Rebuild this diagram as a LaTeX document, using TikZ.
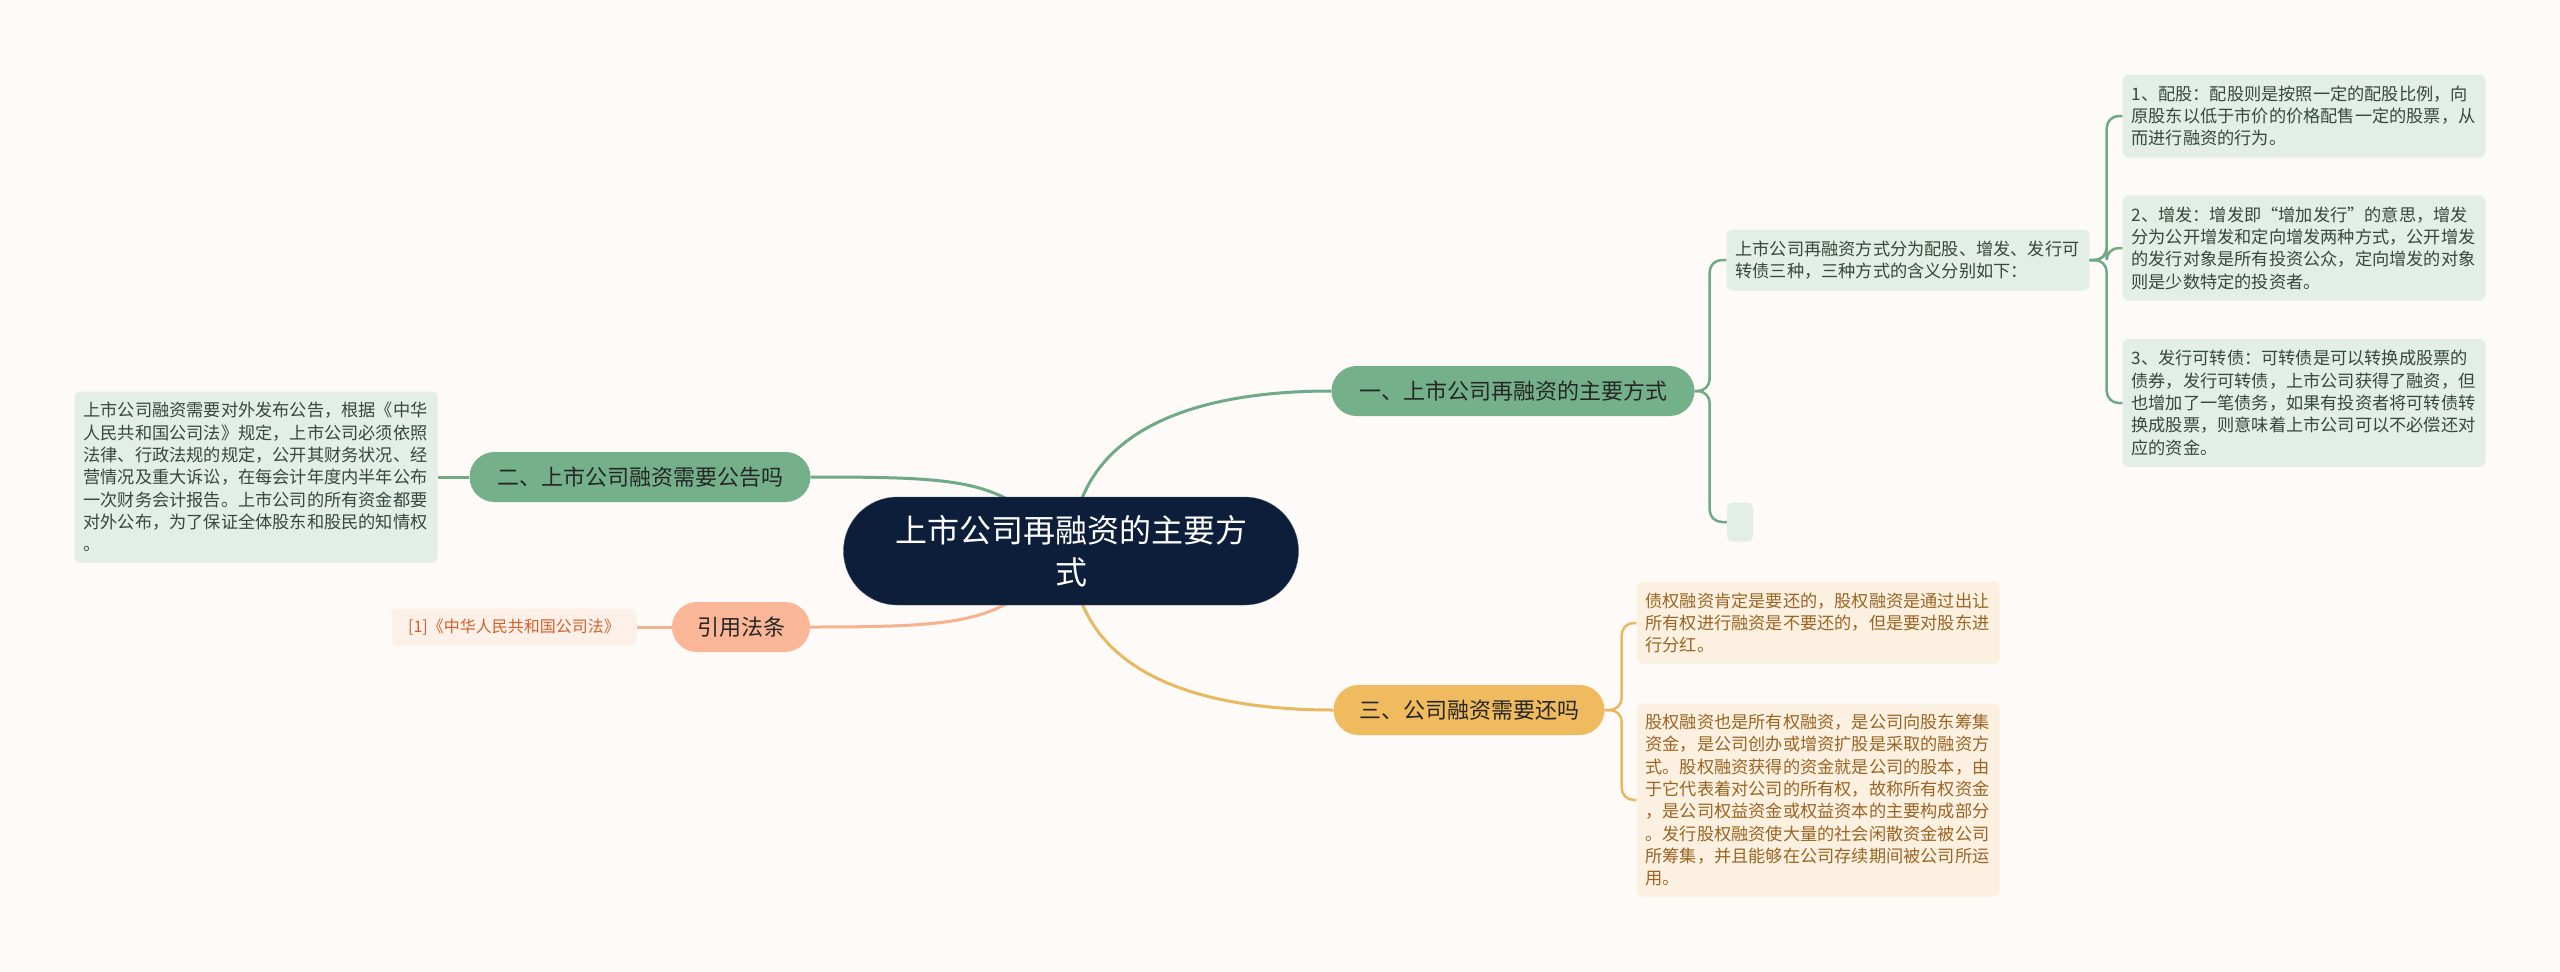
\documentclass[tikz,border=0pt]{standalone}
\usepackage{fontspec}
\newfontfamily\cjk{Noto Sans CJK SC}
\definecolor{mmpaper}{RGB}{253,250,248}
\definecolor{mmnavy}{RGB}{12,30,57}
\definecolor{mmdark}{RGB}{38,38,38}
\definecolor{mmgreen}{RGB}{116,177,139}
\definecolor{mmgreenline}{RGB}{111,169,133}
\definecolor{mmgreenleaf}{RGB}{227,239,230}
\definecolor{mmgreentext}{RGB}{55,71,59}
\definecolor{mmorange}{RGB}{240,187,94}
\definecolor{mmorangeline}{RGB}{232,185,96}
\definecolor{mmorangeleaf}{RGB}{252,240,224}
\definecolor{mmorangetext}{RGB}{154,101,36}
\definecolor{mmsalmon}{RGB}{250,183,151}
\definecolor{mmsalmonline}{RGB}{246,177,144}
\definecolor{mmcite}{RGB}{253,240,232}
\definecolor{mmcitetext}{RGB}{212,96,42}
\pgfdeclarelayer{paper}
\pgfdeclarelayer{edges}
\pgfsetlayers{paper,edges,main}

\begin{document}
\begin{tikzpicture}[x=1pt, y=-1pt,
  root/.style={rectangle, rounded corners=54pt, fill=mmnavy, draw=mmnavy!75!white, thin,
               minimum width=455pt, minimum height=108pt, align=center, text=white,
               font=\cjk\fontsize{32pt}{42pt}\selectfont},
  branch/.style={rectangle, rounded corners=25pt, fill=#1, minimum height=50pt,
                 text=mmdark, font=\cjk\fontsize{22pt}{26pt}\selectfont},
  leaf/.style={rectangle, rounded corners=6pt, fill=#1, text width=345pt,
               inner xsep=9pt, inner ysep=0pt, align=left,
               font=\cjk\fontsize{17.2pt}{22.3pt}\selectfont},
  link/.style={line width=3pt, draw=#1},
  fork/.style={line width=2.5pt, draw=#1, rounded corners=12pt}
]
\begin{pgfonlayer}{paper}
\fill[mmpaper] (0,0) rectangle (2560,972);
\end{pgfonlayer}
\useasboundingbox (0,0) rectangle (2560,972);

% Centre
\node[root] (root) at (1071,551) {上市公司再融资的主要方\\式};

% Branch 1: ways of refinancing
\node[branch=mmgreen, minimum width=363pt] (b1) at (1513,391) {一、上市公司再融资的主要方式};
\node[leaf=mmgreenleaf, text=mmgreentext, minimum height=61pt] (t1) at (1908,260)
  {上市公司再融资方式分为配股、增发、发行可\\转债三种，三种方式的含义分别如下：};
\node[leaf=mmgreenleaf, text width=8pt, minimum height=39pt] (blank) at (1740,522) {};
\node[leaf=mmgreenleaf, text=mmgreentext, minimum height=83pt] (s1) at (2304,116)
  {1、配股：配股则是按照一定的配股比例，向\\原股东以低于市价的价格配售一定的股票，从\\而进行融资的行为。};
\node[leaf=mmgreenleaf, text=mmgreentext, minimum height=105pt] (s2) at (2304,248)
  {2、增发：增发即“增加发行”的意思，增发\\分为公开增发和定向增发两种方式，公开增发\\的发行对象是所有投资公众，定向增发的对象\\则是少数特定的投资者。};
\node[leaf=mmgreenleaf, text=mmgreentext, minimum height=128pt] (s3) at (2304,403)
  {3、发行可转债：可转债是可以转换成股票的\\债券，发行可转债，上市公司获得了融资，但\\也增加了一笔债务，如果有投资者将可转债转\\换成股票，则意味着上市公司可以不必偿还对\\应的资金。};

% Branch 2: announcement
\node[branch=mmgreen, minimum width=341pt] (b2) at (640,477) {二、上市公司融资需要公告吗};
\node[leaf=mmgreenleaf, text=mmgreentext, minimum height=171pt] (ln) at (256,477)
  {上市公司融资需要对外发布公告，根据《中华\\人民共和国公司法》规定，上市公司必须依照\\法律、行政法规的规定，公开其财务状况、经\\营情况及重大诉讼，在每会计年度内半年公布\\一次财务会计报告。上市公司的所有资金都要\\对外公布，为了保证全体股东和股民的知情权\\。};

% Branch 3: repayment
\node[branch=mmorange, minimum width=271pt] (b3) at (1469,710) {三、公司融资需要还吗};
\node[leaf=mmorangeleaf, text=mmorangetext, minimum height=82pt] (oa) at (1818,623)
  {债权融资肯定是要还的，股权融资是通过出让\\所有权进行融资是不要还的，但是要对股东进\\行分红。};
\node[leaf=mmorangeleaf, text=mmorangetext, minimum height=193pt] (ob) at (1818,800)
  {股权融资也是所有权融资，是公司向股东筹集\\资金，是公司创办或增资扩股是采取的融资方\\式。股权融资获得的资金就是公司的股本，由\\于它代表着对公司的所有权，故称所有权资金\\，是公司权益资金或权益资本的主要构成部分\\。发行股权融资使大量的社会闲散资金被公司\\所筹集，并且能够在公司存续期间被公司所运\\用。};

% Citation
\node[branch=mmsalmon, minimum width=138pt] (cite) at (741,627) {引用法条};
\node[rectangle, rounded corners=6pt, fill=mmcite, text=mmcitetext, minimum width=245pt,
      minimum height=37pt, font=\cjk\fontsize{16pt}{20pt}\selectfont] (cl) at (514,627)
  {[1]《中华人民共和国公司法》};

% Connectors
\begin{pgfonlayer}{edges}
\draw[link=mmgreenline] (root.center) .. controls +(5,-120) and +(-140,0) .. (b1.west);
\draw[link=mmgreenline] (root.center) .. controls +(-70,-70) and +(170,0) .. (b2.east);
\draw[link=mmorangeline] (root.center) .. controls +(5,120) and +(-140,0) .. (b3.west);
\draw[link=mmsalmonline] (root.center) .. controls +(-70,70) and +(170,0) .. (cite.east);
\end{pgfonlayer}

\draw[fork=mmgreenline] (b1.east) -- ++(15,0) |- (t1.west);
\draw[fork=mmgreenline] (b1.east) -- ++(15,0) |- (blank.west);
\draw[fork=mmgreenline] (t1.east) -- ++(17,0) |- (s1.west);
\draw[fork=mmgreenline] (t1.east) -- ++(17,0) |- (s2.west);
\draw[fork=mmgreenline] (t1.east) -- ++(17,0) |- (s3.west);
\draw[fork=mmorangeline] (b3.east) -- ++(17,0) |- (oa.west);
\draw[fork=mmorangeline] (b3.east) -- ++(17,0) |- (ob.west);
\draw[link=mmgreenline] (b2.west) -- (ln.east);
\draw[link=mmsalmonline] (cite.west) -- (cl.east);
\end{tikzpicture}
\end{document}
